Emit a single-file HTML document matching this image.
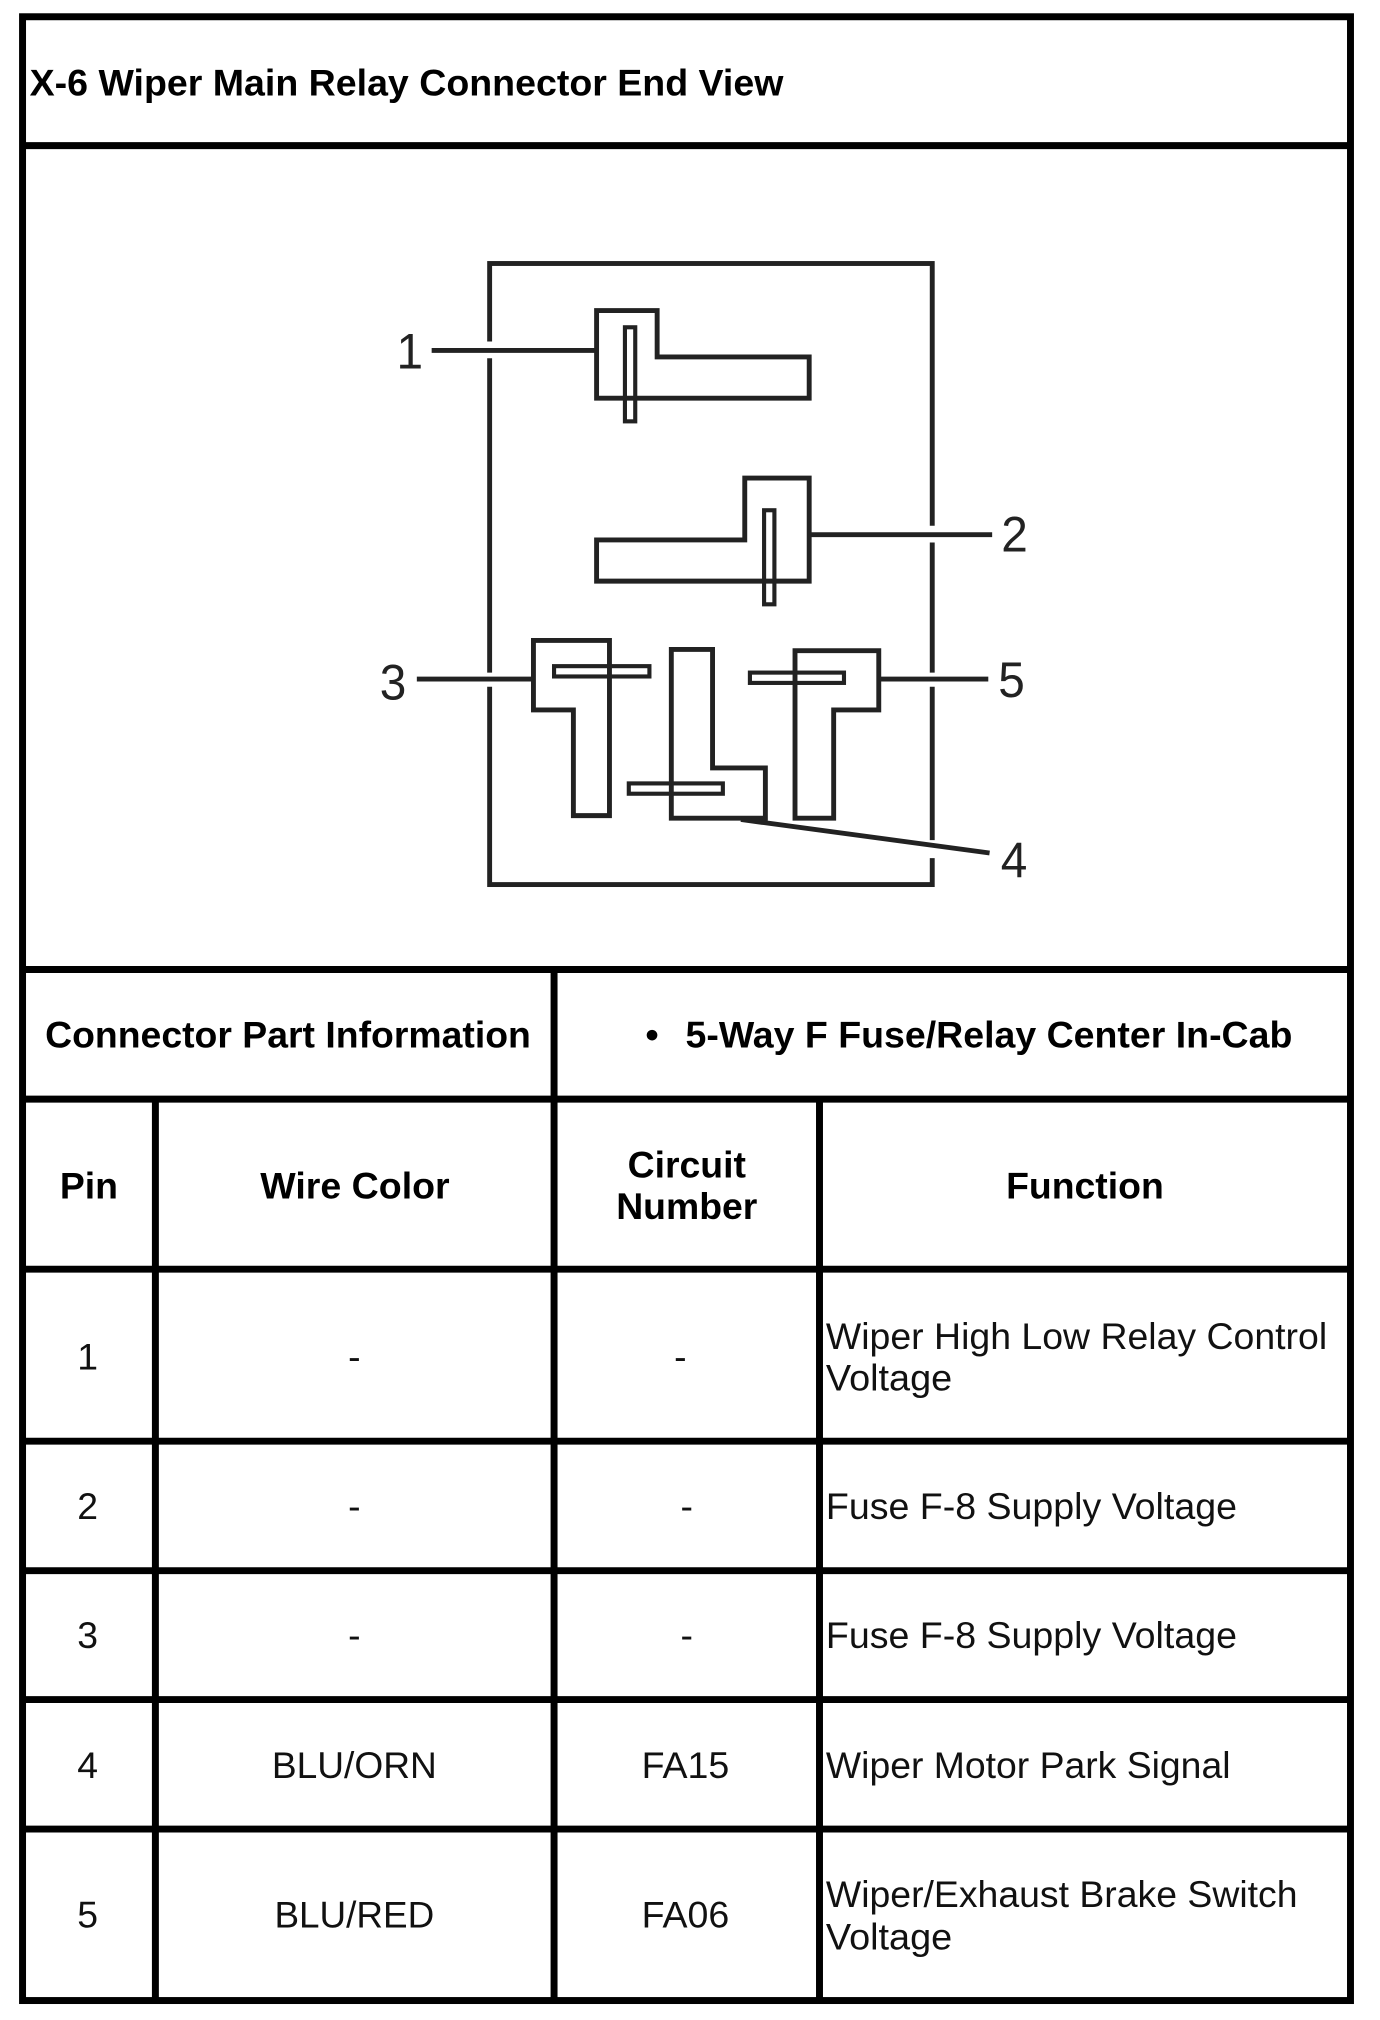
<!DOCTYPE html>
<html>
<head>
<meta charset="utf-8">
<style>
html,body{margin:0;padding:0;background:#fff;width:1380px;height:2020px;overflow:hidden}
svg{display:block}
text{font-family:"Liberation Sans",Arial,sans-serif;fill:#000}
.b{font-weight:bold;font-size:29px}
.n{font-size:29px;fill:#111}
.c{text-anchor:middle}
.d{font-size:39px;fill:#222}
.t{fill:none;stroke:#000;stroke-width:5.4}
.p{fill:none;stroke:#222;stroke-width:3.8}
.l{fill:none;stroke:#222;stroke-width:3.2}
.k{fill:none;stroke:#222;stroke-width:3.8}
.g{fill:none;stroke:#fff;stroke-width:6}
</style>
</head>
<body>
<svg width="1380" height="2020" viewBox="0 0 1071 1567.7" xmlns="http://www.w3.org/2000/svg">
<rect width="1071" height="1568" fill="#fff"/>
<!-- table -->
<rect class="t" x="17.500" y="13" width="1030.600" height="1539.600"/>
<path class="t" d="M18 113H1048M18 752.400H1048M18 853H1048M18 985H1048M18 1118.500H1048M18 1219H1048M18 1319H1048M18 1419.500H1048M430 752V1552M120.600 853V1552M636 853V1552"/>

<text class="b" x="23" y="74" textLength="585" lengthAdjust="spacingAndGlyphs">X-6 Wiper Main Relay Connector End View</text>
<text class="b" x="35" y="813" textLength="377" lengthAdjust="spacingAndGlyphs">Connector Part Information</text>
<text class="b" x="501" y="813">•</text>
<text class="b" x="532" y="813" textLength="471" lengthAdjust="spacingAndGlyphs">5-Way F Fuse/Relay Center In-Cab</text>
<text class="b c" x="69" y="930">Pin</text>
<text class="b" x="202" y="930" textLength="147" lengthAdjust="spacingAndGlyphs">Wire Color</text>
<text class="b c" x="533" y="914">Circuit</text>
<text class="b c" x="533" y="946">Number</text>
<text class="b c" x="842" y="930">Function</text>

<text class="n c" x="68" y="1063">1</text><text class="n c" x="275" y="1063">-</text><text class="n c" x="528" y="1063">-</text>
<text class="n" x="641" y="1047" textLength="389" lengthAdjust="spacingAndGlyphs">Wiper High Low Relay Control</text>
<text class="n" x="641" y="1079" textLength="98" lengthAdjust="spacingAndGlyphs">Voltage</text>

<text class="n c" x="68" y="1179">2</text><text class="n c" x="275" y="1179">-</text><text class="n c" x="533" y="1179">-</text>
<text class="n" x="641" y="1179" textLength="319" lengthAdjust="spacingAndGlyphs">Fuse F-8 Supply Voltage</text>

<text class="n c" x="68" y="1279">3</text><text class="n c" x="275" y="1279">-</text><text class="n c" x="533" y="1279">-</text>
<text class="n" x="641" y="1279" textLength="319" lengthAdjust="spacingAndGlyphs">Fuse F-8 Supply Voltage</text>

<text class="n c" x="68" y="1380">4</text>
<text class="n" x="211" y="1380" textLength="128" lengthAdjust="spacingAndGlyphs">BLU/ORN</text>
<text class="n" x="498" y="1380" textLength="68" lengthAdjust="spacingAndGlyphs">FA15</text>
<text class="n" x="641" y="1380" textLength="314" lengthAdjust="spacingAndGlyphs">Wiper Motor Park Signal</text>

<text class="n c" x="68" y="1496">5</text>
<text class="n" x="213" y="1496" textLength="124" lengthAdjust="spacingAndGlyphs">BLU/RED</text>
<text class="n" x="498" y="1496" textLength="68" lengthAdjust="spacingAndGlyphs">FA06</text>
<text class="n" x="641" y="1480" textLength="366" lengthAdjust="spacingAndGlyphs">Wiper/Exhaust Brake Switch</text>
<text class="n" x="641" y="1513" textLength="98" lengthAdjust="spacingAndGlyphs">Voltage</text>

<!-- connector body -->
<rect class="p" x="380" y="204.500" width="343.500" height="482"/>
<path class="g" stroke-linecap="butt" d="M380 265V278M380 522V533M723.500 408V421M723.500 522V533M723.500 652V666"/>

<!-- pins -->
<polygon class="p" points="463,241 510,241 510,277 628,277 628,309 463,309"/>
<rect class="l" x="485" y="254" width="8" height="73"/>
<polygon class="k" points="463,419 578,419 578,371 628,371 628,451 463,451"/>
<rect class="l" x="593" y="396" width="8" height="73"/>
<polygon class="k" points="414,497 473,497 473,633 445,633 445,551 414,551"/>
<rect class="l" x="430" y="517" width="74" height="8"/>
<polygon class="k" points="521,504 553,504 553,596 594,596 594,635 521,635"/>
<rect class="l" x="488" y="608" width="73" height="8"/>
<polygon class="k" points="617,505 682,505 682,551 647,551 647,635 617,635"/>
<rect class="l" x="582" y="522" width="73" height="8"/>

<!-- leaders -->
<path class="k" d="M335 272H463M628 415H770M323.500 527H414M682 527H767M575 636L768 662"/>

<!-- callouts -->
<text class="d c" x="318" y="286" transform="translate(318 0) scale(.95 1) translate(-318 0)">1</text>
<text class="d c" x="787.400" y="428" transform="translate(787.400 0) scale(.95 1) translate(-787.400 0)">2</text>
<text class="d c" x="305" y="543" transform="translate(305 0) scale(.95 1) translate(-305 0)">3</text>
<text class="d c" x="787" y="681" transform="translate(787 0) scale(.95 1) translate(-787 0)">4</text>
<text class="d c" x="785" y="541" transform="translate(785 0) scale(.95 1) translate(-785 0)">5</text>
</svg>
</body>
</html>
